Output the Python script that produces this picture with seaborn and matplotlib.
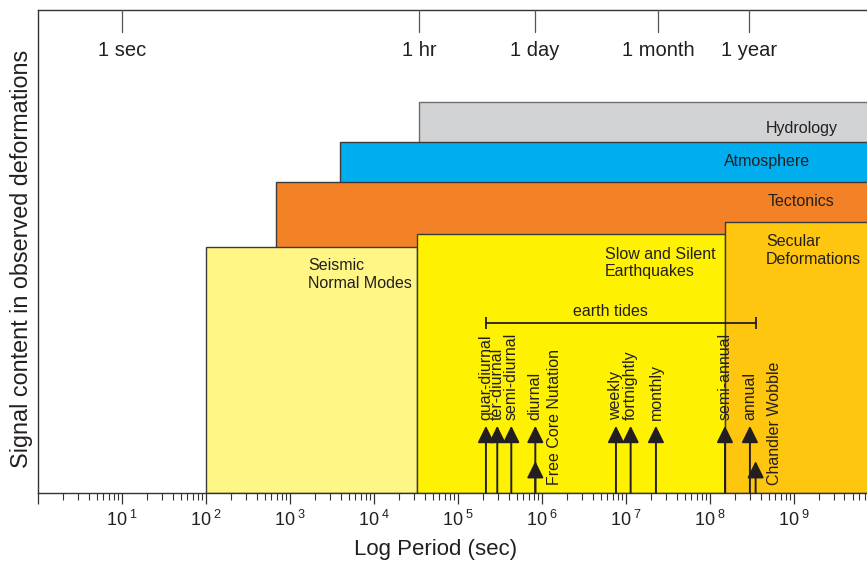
import numpy as np
import matplotlib
matplotlib.use("Agg")
import matplotlib.pyplot as plt
import matplotlib.ticker as mticker
import seaborn as sns

# ---------------- data ----------------
band_names = ["Hydrology", "Atmosphere", "Tectonics",
              "Seismic\nNormal Modes", "Slow and Silent\nEarthquakes",
              "Secular\nDeformations"]
band_start_log = [4.536, 3.599, 2.838, 2.0, 4.518, 8.179]
band_end_log = [10.5, 10.5, 10.5, 4.518, 8.179, 10.5]
band_level = [0.8085, 0.7257, 0.6433, 0.510, 0.5356, 0.5605]
band_colors = ["#D1D3D4", "#00AEEF", "#F38226", "#FFF685", "#FFF200", "#FFC60F"]

line_names = ["quar-diurnal", "ter-diurnal", "semi-diurnal", "diurnal",
              "Free Core Nutation", "weekly", "fortnightly", "monthly",
              "semi-annual", "annual", "Chandler Wobble"]
line_log = [5.333, 5.468, 5.635, 5.921, 5.921, 6.881, 7.056, 7.357,
            8.179, 8.476, 8.544]
line_level = [0.139, 0.139, 0.139, 0.139, 0.066, 0.139, 0.139, 0.139,
              0.139, 0.139, 0.066]

tides_range_log = [5.333, 8.544]
tides_level = 0.352

top_tick_labels = ["1 sec", "1 hr", "1 day", "1 month", "1 year"]
top_tick_log = [1.0, 4.536, 5.917, 7.385, 8.464]

bottom_tick_log = list(range(0, 10))
x_range_log = [0.0, 9.87]

# ---------------- style ----------------
sns.set_theme(style="white")
plt.rcParams["font.family"] = ["Liberation Sans", "DejaVu Sans"]
plt.rcParams["mathtext.fontset"] = "custom"
plt.rcParams["mathtext.rm"] = "Liberation Sans"
plt.rcParams["mathtext.it"] = "Liberation Sans"
plt.rcParams["mathtext.default"] = "regular"
TXT = "#231F20"

fig = plt.figure(figsize=(8.67, 5.61), dpi=100)
ax = fig.add_axes([38 / 867, 68 / 561, 829 / 867, 483 / 561])
ax.set_xscale("log")
ax.set_xlim(10 ** x_range_log[0], 10 ** x_range_log[1])
ax.set_ylim(0, 1)

# bands
for name, s, e, lev, col in zip(band_names, band_start_log, band_end_log,
                                band_level, band_colors):
    ec = "#6D6E71" if name == "Hydrology" else "#3A3A3A"
    ax.bar(10 ** s, lev, width=10 ** e - 10 ** s, align="edge", color=col,
           edgecolor=ec, linewidth=1.0, zorder=1)

# band labels
ax.text(10 ** 9.524, 0.7537, "Hydrology", ha="right", va="center", fontsize=11.5, color=TXT, zorder=3)
ax.text(10 ** 9.19, 0.687, "Atmosphere", ha="right", va="center", fontsize=11.5, color=TXT, zorder=3)
ax.text(10 ** 9.476, 0.6026, "Tectonics", ha="right", va="center", fontsize=11.5, color=TXT, zorder=3)
ax.text(10 ** 3.214, 0.4524, "Seismic\nNormal Modes", ha="left", va="center", fontsize=11.5,
        color=TXT, linespacing=1.2, zorder=3)
ax.text(10 ** 6.75, 0.476, "Slow and Silent\nEarthquakes", ha="left", va="center", fontsize=11.5,
        color=TXT, linespacing=1.2, zorder=3)
ax.text(10 ** 8.667, 0.502, "Secular\nDeformations", ha="left", va="center", fontsize=11.5,
        color=TXT, linespacing=1.2, zorder=3)

# earth tides bracket
tl, tr = 10 ** tides_range_log[0], 10 ** tides_range_log[1]
ax.plot([tl, tr], [tides_level, tides_level], color=TXT, lw=1.3, zorder=3)
ax.vlines([tl, tr], tides_level - 0.013, tides_level + 0.013, color=TXT, lw=1.3, zorder=3)
ax.text(np.sqrt(tl * tr) * 10 ** -0.12, tides_level + 0.008, "earth tides", ha="center",
        va="bottom", fontsize=11.5, color=TXT, zorder=3)

# arrows and labels
for name, xl, lev in zip(line_names, line_log, line_level):
    xv = 10 ** xl
    ax.annotate("", xy=(xv, lev), xytext=(xv, 0),
                arrowprops=dict(arrowstyle="-|>,head_length=0.85,head_width=0.42",
                                color=TXT, lw=1.4, shrinkA=0, shrinkB=0),
                zorder=4)
    if lev < 0.1:
        ax.annotate(name, xy=(xv, 0.0166), xytext=(13.5, 0), textcoords="offset points",
                    rotation=90, ha="center", va="bottom", fontsize=11.5, color=TXT, zorder=4)
    else:
        ax.annotate(name, xy=(xv, lev + 0.012), xytext=(0, 0), textcoords="offset points",
                    rotation=90, ha="center", va="bottom", fontsize=11.5, color=TXT, zorder=4)

# top ticks (period labels)
for lab, xl in zip(top_tick_labels, top_tick_log):
    xv = 10 ** xl
    ax.plot([xv, xv], [1.0, 0.9545], color="#555555", lw=0.9, zorder=3, clip_on=False)
    ax.text(xv, 0.917, lab, ha="center", va="center", fontsize=14.5, color=TXT)

# bottom axis
ax.xaxis.set_major_locator(mticker.FixedLocator([10.0 ** k for k in bottom_tick_log]))
ax.xaxis.set_major_formatter(mticker.FuncFormatter(
    lambda v, p: "" if v < 5 else r"$10^{\ %d}$" % int(round(np.log10(v)))))
ax.xaxis.set_minor_locator(mticker.LogLocator(base=10, subs=np.arange(2, 10), numticks=20))
ax.xaxis.set_minor_formatter(mticker.NullFormatter())
ax.tick_params(axis="x", which="major", direction="out", length=8, width=0.9,
               colors="#333333", labelsize=13, labelcolor=TXT, pad=4, bottom=True)
ax.tick_params(axis="x", which="minor", direction="out", length=5, width=0.8,
               colors="#333333", bottom=True)
ax.set_yticks([])

for side in ["left", "top", "bottom"]:
    ax.spines[side].set_visible(True)
    ax.spines[side].set_color("#333333")
    ax.spines[side].set_linewidth(1.0)
ax.spines["right"].set_visible(False)

ax.set_xlabel("Log Period (sec)", fontsize=16, color=TXT, labelpad=4)
ax.xaxis.set_label_coords(0.48, -0.095)
ax.set_ylabel("Signal content in observed deformations", fontsize=16.8, color=TXT, labelpad=3.5)
ax.yaxis.label.set_y(0.4845)

fig.savefig("out.png", dpi=100)
